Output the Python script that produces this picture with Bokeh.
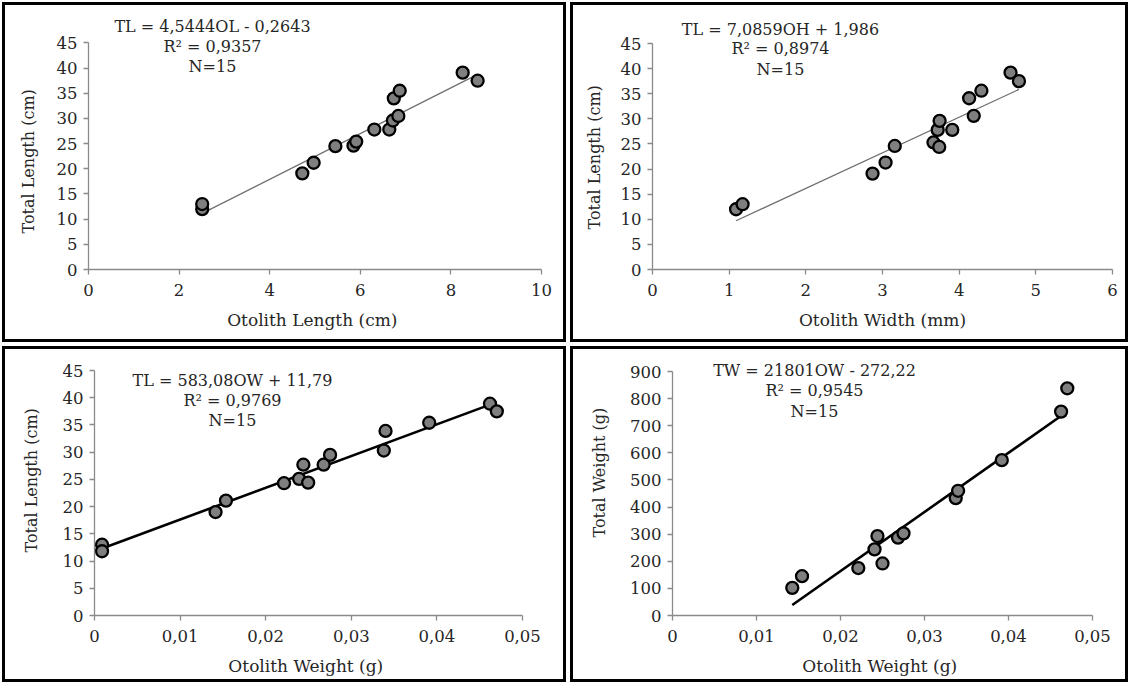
from bokeh.plotting import figure
from bokeh.layouts import column, row
from bokeh.models import Range1d, FixedTicker, Label, Title
from bokeh.embed import file_html
from bokeh.resources import INLINE

FONT = "DejaVu Serif"
TXT = "#262626"

# ---------------- data ----------------
# Panel 1: Otolith Length (cm) vs Total Length (cm)
ol_x = [2.51, 2.51, 4.72, 4.97, 5.45, 5.85, 5.91, 6.31, 6.64, 6.72, 6.74, 6.84, 6.87, 8.26, 8.59]
ol_tl = [12.0, 13.0, 19.1, 21.2, 24.5, 24.6, 25.4, 27.8, 27.8, 29.6, 34.0, 30.5, 35.5, 39.1, 37.5]
ol_fit = [4.5444, -0.2643]
ol_text = ["TL = 4,5444OL - 0,2643", "R² = 0,9357", "N=15"]

# Panel 2: Otolith Width (mm) vs Total Length (cm)
oh_x = [1.09, 1.175, 2.87, 3.04, 3.16, 3.665, 3.74, 3.72, 3.745, 3.91, 4.13, 4.19, 4.29, 4.67, 4.78]
oh_tl = [12.0, 13.0, 19.1, 21.3, 24.6, 25.3, 24.4, 27.8, 29.6, 27.8, 34.1, 30.6, 35.6, 39.2, 37.5]
oh_fit = [7.0859, 1.986]
oh_text = ["TL = 7,0859OH + 1,986", "R² = 0,8974", "N=15"]

# Panel 3: Otolith Weight (g) vs Total Length (cm)
ow_x = [0.00088, 0.00088, 0.01414, 0.01536, 0.02214, 0.0239, 0.0244, 0.02496, 0.02677, 0.02752,
        0.0338, 0.0340, 0.0391, 0.0462, 0.0470]
ow_tl = [13.0, 11.8, 19.0, 21.1, 24.3, 25.1, 27.7, 24.4, 27.7, 29.5, 30.3, 33.9, 35.4, 38.9, 37.5]
ow_fit = [583.08, 11.79]
ow_text = ["TL = 583,08OW + 11,79", "R² = 0,9769", "N=15"]

# Panel 4: Otolith Weight (g) vs Total Weight (g)
tw_x = [0.01426, 0.01542, 0.02212, 0.02405, 0.0244, 0.025, 0.02685, 0.0275, 0.03372, 0.0340,
        0.0392, 0.04626, 0.0470]
tw_y = [102, 145, 175, 244, 293, 192, 287, 303, 433, 460, 573, 752, 838]
tw_fit = [21801, -272.22]
tw_text = ["TW = 21801OW - 272,22", "R² = 0,9545", "N=15"]

len_ticks = [0, 2, 4, 6, 8, 10]
wid_ticks = [0, 1, 2, 3, 4, 5, 6]
wt_ticks = [0, 0.01, 0.02, 0.03, 0.04, 0.05]
wt_labels = ["0", "0,01", "0,02", "0,03", "0,04", "0,05"]
tl_ticks = [0, 5, 10, 15, 20, 25, 30, 35, 40, 45]
tw_ticks = [0, 100, 200, 300, 400, 500, 600, 700, 800, 900]


def panel(x, y, fit, texts, text_px, xticks, xlabels, yticks, xlab, ylab,
          geom, ylab_pos, fit_color, fit_width):
    # geom: panel width/height, frame left/right border, pixel row of top tick and of zero
    w, h, left, right, ytop_px, yzero_px = geom
    top = 6
    bottom = h - yzero_px
    ppu = (yzero_px - ytop_px) / (yticks[-1] - yticks[0])
    y_end = yticks[-1] + (ytop_px - top) / ppu
    xppu = (w - left - right) / (xticks[-1] - xticks[0])

    p = figure(width=w, height=h, output_backend="svg", toolbar_location=None,
               x_range=Range1d(xticks[0], xticks[-1]), y_range=Range1d(yticks[0], y_end),
               min_border_left=left, min_border_right=right,
               min_border_top=top, min_border_bottom=bottom)
    p.styles = {"outline": "3px solid black", "outline-offset": "-5px"}
    p.outline_line_color = None
    p.xgrid.visible = False
    p.ygrid.visible = False
    p.background_fill_color = None
    p.border_fill_color = None

    for ax in (p.xaxis[0], p.yaxis[0]):
        ax.axis_line_color = "#8a8a8a"
        ax.axis_line_width = 1.3
        ax.major_tick_line_color = "#8a8a8a"
        ax.major_tick_line_width = 1.3
        ax.major_tick_in = 0
        ax.major_tick_out = 5
        ax.minor_tick_line_color = None
        ax.major_label_text_font = FONT
        ax.major_label_text_font_size = "16.5px"
        ax.major_label_text_color = TXT
        ax.axis_label_text_font = FONT
        ax.axis_label_text_font_size = "17px"
        ax.axis_label_text_font_style = "normal"
        ax.axis_label_text_color = TXT
    p.xaxis.ticker = FixedTicker(ticks=xticks)
    p.yaxis.ticker = FixedTicker(ticks=yticks)
    p.yaxis.bounds = (yticks[0], yticks[-1])
    if xlabels is not None:
        p.xaxis.major_label_overrides = {t: l for t, l in zip(xticks, xlabels)}
    p.xaxis.axis_label = xlab
    p.xaxis.major_label_standoff = 9
    p.yaxis.major_label_standoff = 6
    p.xaxis.axis_label_standoff = 11
    off, stand = ylab_pos
    p.add_layout(Title(text=ylab, align="left", offset=off, vertical_align="middle",
                       standoff=stand, text_font=FONT, text_font_size="16px",
                       text_font_style="normal", text_color=TXT), "left")

    slope, icpt = fit
    x0, x1 = min(x), max(x)
    p.line([x0, x1], [slope * x0 + icpt, slope * x1 + icpt],
           line_color=fit_color, line_width=fit_width)
    p.scatter(x, y, size=12, fill_color="#7f7f7f", line_color="black", line_width=2.3)

    tx_px, ty_px = text_px
    tx = xticks[0] + (tx_px - left) / xppu
    for t, typ in zip(texts, ty_px):
        ty = yticks[0] + (yzero_px - typ) / ppu
        p.add_layout(Label(x=tx, y=ty, text=t, text_font=FONT, text_font_size="16px",
                           text_align="center", text_baseline="middle", text_color=TXT))
    return p


p1 = panel(ol_x, ol_tl, ol_fit, ol_text, (212, [26, 47, 67]), len_ticks, None, tl_ticks,
           "Otolith Length  (cm)", "Total Length (cm)", (568, 344, 88, 27, 43, 273), (36, 30),
           "#707070", 1.3)
p2 = panel(oh_x, oh_tl, oh_fit, oh_text, (212, [29, 48, 69]), wid_ticks, None, tl_ticks,
           "Otolith Width (mm)", "Total Length (cm)", (562, 344, 84, 18, 43, 269), (40, 26),
           "#707070", 1.3)
p3 = panel(ow_x, ow_tl, ow_fit, ow_text, (232, [36, 56, 76]), wt_ticks, wt_labels, tl_ticks,
           "Otolith Weight  (g)", "Total Length (cm)", (568, 340, 94, 46, 26, 271), (63, 36),
           "black", 2.6)
p4 = panel(tw_x, tw_y, tw_fit, tw_text, (246, [26, 46, 67]), wt_ticks, wt_labels, tw_ticks,
           "Otolith Weight  (g)", "Total Weight (g)", (562, 340, 104, 38, 27, 271), (78, 36),
           "black", 2.6)

layout = column(row(p1, p2), row(p3, p4))
open("out.html", "w").write(file_html(layout, INLINE))
